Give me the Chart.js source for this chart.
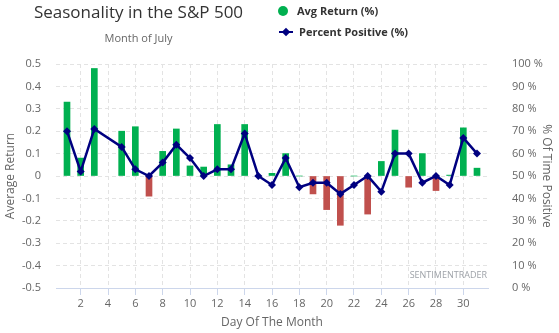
<!DOCTYPE html>
<html>
<head>
<meta charset="utf-8">
<title>Seasonality in the S&amp;P 500</title>
<script src="https://cdn.jsdelivr.net/npm/chart.js@4.4.0/dist/chart.umd.min.js"></script>
<style>
    body { margin: 0; background: #fff; font-family: "Open Sans", sans-serif; }
    #wrap { position: relative; width: 559px; height: 333px; }
    #wrap canvas { position: absolute; left: 0; top: 0; }
    .txt { position: absolute; white-space: nowrap; line-height: 1; }
    .title { left: 0; width: 277px; text-align: center; top: 3px; font-size: 17px; color: #333; }
    .subtitle { left: 0; width: 277px; text-align: center; top: 32px; font-size: 11px; color: #666; }
    .legend-text { font-size: 11px; font-weight: bold; color: #333; }
    .dot { position: absolute; left: 278px; top: 6px; width: 10px; height: 10px; border-radius: 50%; background: #00b050; }
    .dash { position: absolute; left: 279px; top: 31px; width: 14px; height: 2px; background: #000080; }
    .diamond { position: absolute; left: 283px; top: 29px; width: 6px; height: 6px; background: #000080; transform: rotate(45deg); }
</style>
</head>
<body>
<div id="wrap">
    <canvas id="season-chart"></canvas>
    <div class="txt title">Seasonality in the S&amp;P 500</div>
    <div class="txt subtitle">Month of July</div>
    <div class="dot"></div>
    <div class="txt legend-text" style="left:297px; top:5px;">Avg Return (%)</div>
    <div class="dash"></div>
    <div class="diamond"></div>
    <div class="txt legend-text" style="left:299px; top:26px;">Percent Positive (%)</div>
</div>
<script>
// Day of month, July (the 4th is a market holiday, so no data)
const days = [1, 2, 3, 4, 5, 6, 7, 8, 9, 10, 11, 12, 13, 14, 15, 16,
    17, 18, 19, 20, 21, 22, 23, 24, 25, 26, 27, 28, 29, 30, 31];

// Average return for the day, in percent
const avgReturn = [0.33, 0.08, 0.48, null, 0.20, 0.22, -0.09, 0.11, 0.21, 0.045, 0.04,
    0.23, 0.05, 0.23, 0, 0.012, 0.10, 0, -0.08, -0.15, -0.22, 0, -0.17, 0.065,
    0.205, -0.05, 0.10, -0.065, 0.004, 0.215, 0.035];

// Share of years the day closed up, in percent
const percentPositive = [70, 52, 71, null, 63, 53, 50, 56, 64, 58, 50, 53, 53, 69, 50, 46,
    58, 45, 47, 47, 42, 46, 50, 43, 60, 60, 47, 50, 46, 67, 60];

const GREEN = '#00b050';
const RED = '#c0504d';
const NAVY = '#000080';
const GRID = '#e3e3e3';
const AXIS_LINE = '#ccd6eb';
const LABEL = '#666666';

Chart.defaults.font.family = '"Open Sans", sans-serif';
Chart.defaults.font.size = 11;
Chart.defaults.color = LABEL;

// Small "SENTIMENTRADER" tag in the lower right of the plot
const watermark = {
    id: 'watermark',
    afterDraw(chart) {
        const ctx = chart.ctx;
        ctx.save();
        ctx.font = '9px "Open Sans", sans-serif';
        ctx.fillStyle = '#9ea2a8';
        ctx.textAlign = 'right';
        ctx.textBaseline = 'alphabetic';
        ctx.fillText('SENTIMENTRADER', chart.chartArea.right - 1, chart.chartArea.bottom - 10);
        ctx.restore();
    }
};

const returnPoints = days.map((d, i) => ({ x: d, y: avgReturn[i] }));
const positivePoints = days.map((d, i) => ({ x: d, y: percentPositive[i] }));

new Chart(document.getElementById('season-chart'), {
    type: 'bar',
    data: {
        datasets: [
            {
                type: 'line',
                label: 'Percent Positive (%)',
                data: positivePoints,
                yAxisID: 'y1',
                borderColor: NAVY,
                backgroundColor: NAVY,
                borderWidth: 2.5,
                pointStyle: 'rectRot',
                pointRadius: 4,
                pointBorderWidth: 0,
                spanGaps: true,
                tension: 0,
                order: 1
            },
            {
                label: 'Avg Return (%)',
                data: returnPoints,
                yAxisID: 'y',
                backgroundColor: avgReturn.map(v => (v < 0 ? RED : GREEN)),
                borderWidth: 0,
                barThickness: 6,
                order: 2
            }
        ]
    },
    options: {
        responsive: true,
        maintainAspectRatio: false,
        animation: false,
        layout: { padding: { top: 64, left: 0, right: 0, bottom: 0 } },
        plugins: {
            legend: { display: false },
            tooltip: { enabled: false }
        },
        scales: {
            x: {
                type: 'linear',
                min: 0.195,
                max: 31.805,
                offset: false,
                grid: {
                    offset: false,
                    color: GRID,
                    tickColor: AXIS_LINE,
                    tickLength: 7
                },
                border: { display: true, color: AXIS_LINE, width: 1, dash: [4, 3] },
                ticks: {
                    stepSize: 2,
                    includeBounds: false,
                    padding: 2,
                    maxRotation: 0,
                    color: LABEL
                },
                title: {
                    display: true,
                    text: 'Day Of The Month',
                    font: { size: 12 },
                    color: LABEL,
                    padding: { top: 0, bottom: 3 }
                },
                afterFit: scale => { scale.height = 45; }
            },
            y: {
                position: 'left',
                min: -0.5,
                max: 0.5,
                grid: { color: GRID, drawTicks: false },
                border: { display: false, dash: [4, 3] },
                ticks: {
                    stepSize: 0.1,
                    padding: 15,
                    color: LABEL,
                    callback: v => (Math.abs(v) < 1e-9 ? '0' : String(Math.round(v * 10) / 10))
                },
                title: {
                    display: true,
                    text: 'Average Return',
                    font: { size: 12 },
                    color: LABEL,
                    padding: { top: 3, bottom: 0 }
                },
                afterFit: scale => { scale.width = 56; }
            },
            y1: {
                position: 'right',
                min: 0,
                max: 100,
                grid: { display: false, drawOnChartArea: false },
                border: { display: false },
                ticks: {
                    stepSize: 10,
                    padding: 16,
                    color: LABEL,
                    callback: v => v + ' %'
                },
                title: {
                    display: true,
                    text: '% Of Time Positive',
                    font: { size: 12 },
                    color: LABEL,
                    padding: { top: 5, bottom: 0 }
                },
                afterFit: scale => { scale.width = 71; }
            }
        }
    },
    plugins: [watermark]
});
</script>
</body>
</html>
